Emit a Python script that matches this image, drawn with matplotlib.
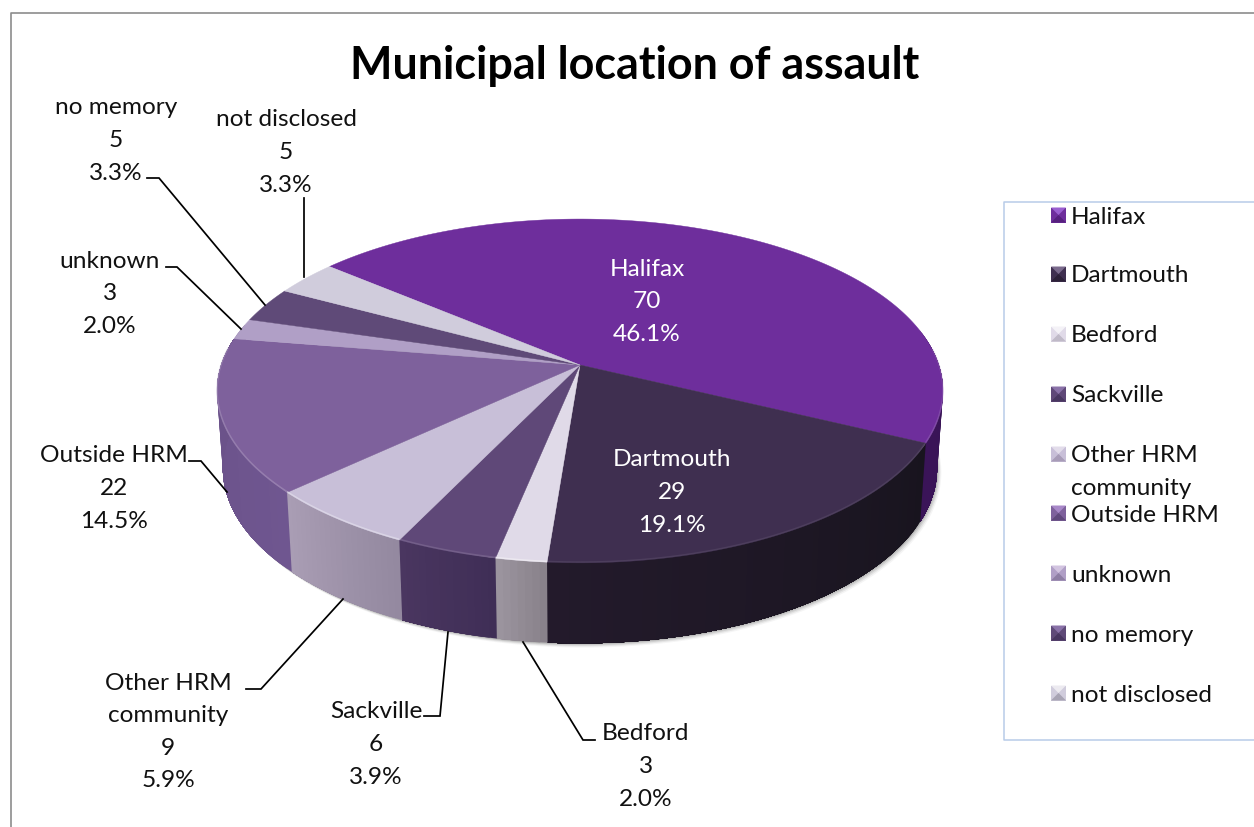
import numpy as np
import matplotlib
matplotlib.use("Agg")
import matplotlib.pyplot as plt
from matplotlib.colors import to_rgb

categories = ["Halifax", "Dartmouth", "Bedford", "Sackville", "Other HRM\ncommunity",
              "Outside HRM", "unknown", "no memory", "not disclosed"]
values = [70, 29, 3, 6, 9, 22, 3, 5, 5]

top_colors = ["#6e2e9c", "#3f2f50", "#e0dae8", "#5f4878", "#c8bfd8",
              "#7e619c", "#b09fc6", "#5f4a78", "#d0ccdc"]
wall_left = ["#3a1458", "#231a2b", "#9c95a0", "#4a3660", "#aa9db4",
             "#6a5188", "#8a7a9c", "#4a3660", "#a8a4b0"]
wall_right = ["#30104a", "#18141e", "#878189", "#3f2e56", "#93889f",
              "#6f5690", "#8a7a9c", "#4a3660", "#a8a4b0"]
legend_light = ["#9a5fd0", "#7a6a8c", "#f4f2f7", "#8a72a8", "#e2dcea",
                "#a888c8", "#d2c4e0", "#8a72a8", "#eceaf0"]
legend_dark = ["#56207e", "#2c2038", "#c0bac8", "#483660", "#a89cb8",
               "#60487c", "#8e7ea4", "#483660", "#a8a4b4"]

# x centre and y of the first text line of each data label
label_anchor = [(647, 267), (672, 458), (646, 732), (376, 710), (168, 681),
                (114, 454), (110, 259), (116, 106), (286, 118)]
label_colors = ["white", "white", "#111111", "#111111", "#111111",
                "#111111", "#111111", "#111111", "#111111"]
leaders = [None, None,
           [(595, 740), (583, 740), (523, 642)],
           [(424, 716), (440, 716), (448, 632)],
           [(246, 689), (261, 689), (343, 599)],
           [(189, 461), (201, 461), (227, 492)],
           [(166, 267), (177, 267), (241, 329)],
           [(147, 178), (159, 178), (265, 305)],
           [(304, 198), (304, 277)]]

W, H = 1254, 827
APEX = (580.0, 365.0)
K, A, C = 0.151, 168.0, 358.8
START = 140.0
LABEL_SIZE = 17.6
LINE_STEP = 32.6
BASE_OFFSET = 8.5


def top_xy(deg, r=1.0):
    t = np.radians(deg)
    u, v = r * np.cos(t), r * np.sin(t)
    w = 1 + K * v
    return APEX[0] + C * u / w, APEX[1] - A * v / w


def bottom_xy(deg):
    t = np.radians(deg)
    v = np.sin(t)
    x, y = top_xy(deg)
    return APEX[0] + (x - APEX[0]) * 0.984, y + 77 - 3.5 * v


plt.rcParams["font.family"] = ["Lato", "DejaVu Sans"]
fig = plt.figure(figsize=(W / 100, H / 100), dpi=100, facecolor="white")
ax = fig.add_axes([0, 0, 1, 1])
ax.set_xlim(0, W)
ax.set_ylim(H, 0)
ax.axis("off")

# outer frame
ax.plot([10.5, 10.5, W], [H, 12.5, 12.5], color="#8c8c8c", lw=1.2, zorder=1)

# title
ax.text(635, 66, "Municipal location of assault", ha="center", va="center",
        fontsize=32.3, fontweight="bold", color="black")

# slice angles
fractions = np.array(values) / sum(values)
ends = START - np.cumsum(fractions) * 360
starts = np.concatenate([[START], ends[:-1]])

# shadow
full = np.linspace(0, 360, 361)
bx, by = bottom_xy(full)
for off, alpha in [(6, 0.06), (4.5, 0.10), (3, 0.14), (1.5, 0.2)]:
    ax.fill(bx + off * 0.7, by + off * 0.7, color="#555555", alpha=alpha, lw=0, zorder=2)

# walls: each step repaints from its angle to the slice end, hiding the seams
for a0, a1, cl, cr in zip(starts, ends, wall_left, wall_right):
    n = max(int(abs(a1 - a0)), 2)
    ang = np.linspace(a0, a1, n + 1)
    c0, c1 = np.array(to_rgb(cr)), np.array(to_rgb(cl))
    for i in range(n):
        if np.sin(np.radians(ang[i + 1])) > 0.2:
            continue
        rest = ang[i:]
        rest = rest[np.sin(np.radians(rest)) < 0.25]
        if rest.size < 2:
            continue
        tx, ty = top_xy(rest)
        bx2, by2 = bottom_xy(rest)
        ax.fill(np.r_[tx, bx2[::-1]], np.r_[ty, by2[::-1]],
                color=c0 + (c1 - c0) * (i + 0.5) / n, lw=0, zorder=3)

# top surface
for a0, a1, col in zip(starts, ends, top_colors):
    ang = np.linspace(a0, a1, max(int(abs(a1 - a0) * 2), 4))
    x, y = top_xy(ang)
    ax.fill(np.r_[APEX[0], x], np.r_[APEX[1], y], facecolor=col, edgecolor=col, lw=0.3, zorder=4)
    # bevel along the front rim
    front = np.sin(np.radians(ang)) < 0.1
    if front.any():
        rgb = np.array(to_rgb(col))
        lum = rgb.mean()
        light = rgb + (1 - rgb) * 0.5
        ax.plot(x[front], y[front] - 0.8, color=light, lw=1.1, alpha=0.9 * lum ** 1.3, zorder=5,
                solid_capstyle="butt")

# leader lines
for pts in leaders:
    if pts:
        xs, ys = zip(*pts)
        ax.plot(xs, ys, color="black", lw=1.25, zorder=6, solid_joinstyle="miter")

# data labels, one text per line so that the spacing is exact
for name, val, frac, (lx, ly), col in zip(categories, values, fractions, label_anchor, label_colors):
    lines = name.split("\n") + [str(val), f"{frac * 100:.1f}%"]
    for j, line in enumerate(lines):
        ax.text(lx, ly + j * LINE_STEP + BASE_OFFSET, line, ha="center", va="baseline",
                fontsize=LABEL_SIZE, color=col, zorder=7)

# legend box
ax.plot([W, 1003.5, 1003.5, W], [201.5, 201.5, 739.5, 739.5], color="#b8cce8", lw=1.1, zorder=1)

legend_rows = [215, 274, 334, 394, 454, 513, 573, 633, 693]
for name, yc, base, hi, lo in zip(categories, legend_rows, top_colors, legend_light, legend_dark):
    x0, x1, y0, y1 = 1051, 1066, yc - 7.5, yc + 7.5
    cx, cy = (x0 + x1) / 2, (y0 + y1) / 2
    ax.fill([x0, x1, x1, x0], [y0, y0, y1, y1], color=base, lw=0, zorder=6)
    ax.fill([x0, x1, cx], [y0, y0, cy], color=hi, lw=0, zorder=6)
    ax.fill([x0, x1, cx], [y1, y1, cy], color=lo, lw=0, zorder=6)
    for j, line in enumerate(name.split("\n")):
        ax.text(1071, yc + j * LINE_STEP + BASE_OFFSET, line, ha="left", va="baseline",
                fontsize=LABEL_SIZE, color="#111111", zorder=7)

fig.savefig("out.png", dpi=100)
